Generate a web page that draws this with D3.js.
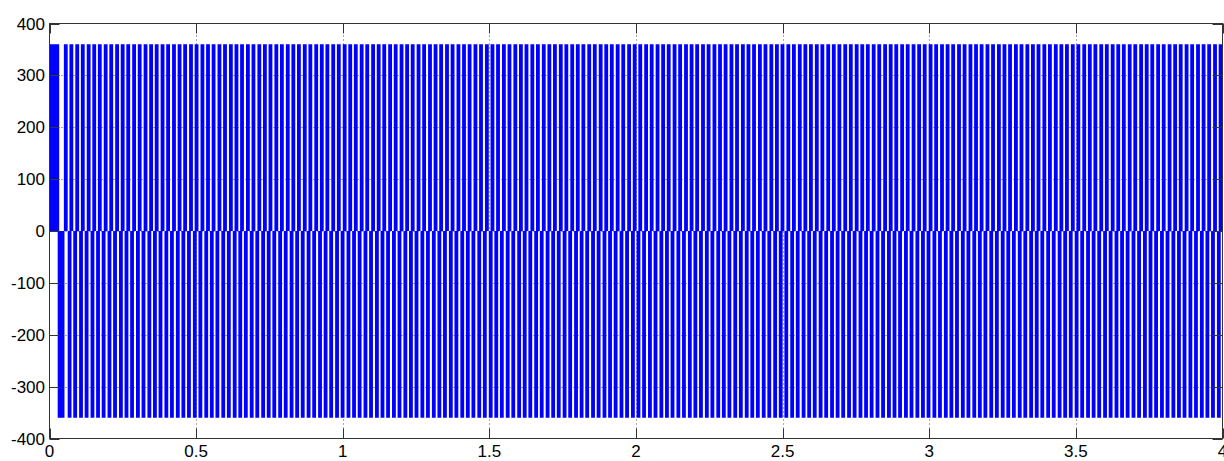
<!DOCTYPE html>
<html>
<head>
<meta charset="utf-8">
<script src="https://cdn.jsdelivr.net/npm/d3@7"></script>
<style>
  body { margin: 0; background: #fff; }
  svg { display: block; }
  text { font-family: "Liberation Sans", Arial, sans-serif; }
</style>
</head>
<body>
<svg id="chart"></svg>
<script>
// axis ticks
const xTicks = [0, 0.5, 1, 1.5, 2, 2.5, 3, 3.5, 4];
const yTicks = [-400, -300, -200, -100, 0, 100, 200, 300, 400];

// switching waveform: +/-360 pulses, times in ms
const level = 360;
const pulseMs = 13;
const posLead = [0, 33];
const negLead = [28, 51];
const posOn = [
  49, 68, 88, 107, 127, 146, 165, 185, 204, 224, 243, 262, 282, 301, 321,
  340, 359, 379, 398, 418, 437, 456, 476, 495, 515, 534, 553, 573, 592, 612,
  631, 650, 670, 689, 709, 728, 747, 767, 786, 806, 825, 844, 864, 883, 903,
  922, 941, 961, 980, 1000, 1019, 1038, 1058, 1077, 1097, 1116, 1135, 1155, 1174, 1194,
  1213, 1232, 1252, 1271, 1291, 1310, 1329, 1349, 1368, 1388, 1407, 1426, 1446, 1465, 1485,
  1504, 1523, 1543, 1562, 1582, 1601, 1620, 1640, 1659, 1679, 1698, 1717, 1737, 1756, 1776,
  1795, 1814, 1834, 1853, 1873, 1892, 1911, 1931, 1950, 1970, 1989, 2008, 2028, 2047, 2067,
  2086, 2105, 2125, 2144, 2164, 2183, 2202, 2222, 2241, 2261, 2280, 2299, 2319, 2338, 2358,
  2377, 2396, 2416, 2435, 2455, 2474, 2493, 2513, 2532, 2552, 2571, 2590, 2610, 2629, 2649,
  2668, 2687, 2707, 2726, 2746, 2765, 2784, 2804, 2823, 2843, 2862, 2881, 2901, 2920, 2940,
  2959, 2978, 2998, 3017, 3037, 3056, 3075, 3095, 3114, 3134, 3153, 3172, 3192, 3211, 3231,
  3250, 3269, 3289, 3308, 3328, 3347, 3366, 3386, 3405, 3425, 3444, 3463, 3483, 3502, 3522,
  3541, 3560, 3580, 3599, 3619, 3638, 3657, 3677, 3696, 3716, 3735, 3754, 3774, 3793, 3813,
  3832, 3851, 3871, 3890, 3910, 3929, 3948, 3968, 3987
];
const negOn = [
  62, 81, 101, 120, 140, 159, 178, 198, 217, 237, 256, 275, 295, 314, 334,
  353, 372, 392, 411, 431, 450, 469, 489, 508, 528, 547, 566, 586, 605, 625,
  644, 663, 683, 702, 722, 741, 760, 780, 799, 819, 838, 857, 877, 896, 916,
  935, 954, 974, 993, 1013, 1032, 1051, 1071, 1090, 1110, 1129, 1148, 1168, 1187, 1207,
  1226, 1245, 1265, 1284, 1304, 1323, 1342, 1362, 1381, 1401, 1420, 1439, 1459, 1478, 1498,
  1517, 1536, 1556, 1575, 1595, 1614, 1633, 1653, 1672, 1692, 1711, 1730, 1750, 1769, 1789,
  1808, 1827, 1847, 1866, 1886, 1905, 1924, 1944, 1963, 1983, 2002, 2021, 2041, 2060, 2080,
  2099, 2118, 2138, 2157, 2177, 2196, 2215, 2235, 2254, 2274, 2293, 2312, 2332, 2351, 2371,
  2390, 2409, 2429, 2448, 2468, 2487, 2506, 2526, 2545, 2565, 2584, 2603, 2623, 2642, 2662,
  2681, 2700, 2720, 2739, 2759, 2778, 2797, 2817, 2836, 2856, 2875, 2894, 2914, 2933, 2953,
  2972, 2991, 3011, 3030, 3050, 3069, 3088, 3108, 3127, 3147, 3166, 3185, 3205, 3224, 3244,
  3263, 3282, 3302, 3321, 3341, 3360, 3379, 3399, 3418, 3438, 3457, 3476, 3496, 3515, 3535,
  3554, 3573, 3593, 3612, 3632, 3651, 3670, 3690, 3709, 3729, 3748, 3767, 3787, 3806, 3826,
  3845, 3864, 3884, 3903, 3923, 3942, 3961, 3981
];

const width = 1224, height = 461;
const plotL = 49.5, plotR = 1222.5, plotT = 23.5, plotB = 438.5;
const tickLen = 10;

const x = d3.scaleLinear().domain([0, 4]).range([plotL, plotR]);
const y = d3.scaleLinear().domain([-400, 400]).range([plotB, plotT]);

const svg = d3.select("#chart")
  .attr("width", width)
  .attr("height", height);

svg.append("defs").append("clipPath")
  .attr("id", "plot")
  .append("rect")
  .attr("x", plotL).attr("y", plotT)
  .attr("width", plotR - plotL).attr("height", plotB - plotT);

// grid
const grid = svg.append("g")
  .attr("stroke", "#555")
  .attr("stroke-width", 1)
  .attr("stroke-dasharray", "1,3");
grid.selectAll(".gx")
  .data(xTicks.slice(1, -1))
  .join("line")
  .attr("x1", d => Math.round(x(d)) + 0.5).attr("x2", d => Math.round(x(d)) + 0.5)
  .attr("y1", plotT).attr("y2", plotB);
grid.selectAll(".gy")
  .data(yTicks.slice(1, -1))
  .join("line")
  .attr("y1", d => Math.round(y(d)) + 0.5).attr("y2", d => Math.round(y(d)) + 0.5)
  .attr("x1", plotL).attr("x2", plotR);

// pulses
const posPulses = [posLead].concat(posOn.map(t => [t, t + pulseMs]));
const negPulses = [negLead].concat(negOn.map(t => [t, t + pulseMs]));

const wave = svg.append("g")
  .attr("clip-path", "url(#plot)")
  .attr("fill", "#0000ff");

wave.selectAll(".pos")
  .data(posPulses)
  .join("rect")
  .attr("x", d => x(d[0] / 1000))
  .attr("width", d => x(d[1] / 1000) - x(d[0] / 1000))
  .attr("y", y(level))
  .attr("height", y(0) - y(level));

wave.selectAll(".neg")
  .data(negPulses)
  .join("rect")
  .attr("x", d => x(d[0] / 1000))
  .attr("width", d => x(d[1] / 1000) - x(d[0] / 1000))
  .attr("y", y(0))
  .attr("height", y(-level) - y(0));

// box and ticks
const axisColor = "#333";
svg.append("rect")
  .attr("x", plotL).attr("y", plotT)
  .attr("width", plotR - plotL).attr("height", plotB - plotT)
  .attr("fill", "none")
  .attr("stroke", axisColor);

const ticks = svg.append("g").attr("stroke", axisColor);
ticks.selectAll(".tb")
  .data(xTicks)
  .join("line")
  .attr("x1", d => Math.round(x(d)) + 0.5).attr("x2", d => Math.round(x(d)) + 0.5)
  .attr("y1", plotB).attr("y2", plotB - tickLen);
ticks.selectAll(".tt")
  .data(xTicks)
  .join("line")
  .attr("x1", d => Math.round(x(d)) + 0.5).attr("x2", d => Math.round(x(d)) + 0.5)
  .attr("y1", plotT).attr("y2", plotT + tickLen);
ticks.selectAll(".tl")
  .data(yTicks)
  .join("line")
  .attr("y1", d => Math.round(y(d)) + 0.5).attr("y2", d => Math.round(y(d)) + 0.5)
  .attr("x1", plotL).attr("x2", plotL + tickLen);
ticks.selectAll(".tr")
  .data(yTicks)
  .join("line")
  .attr("y1", d => Math.round(y(d)) + 0.5).attr("y2", d => Math.round(y(d)) + 0.5)
  .attr("x1", plotR).attr("x2", plotR - tickLen);

// labels
svg.append("g")
  .attr("font-size", 17)
  .attr("fill", "#000")
  .attr("text-anchor", "end")
  .selectAll("text")
  .data(yTicks)
  .join("text")
  .attr("x", 45)
  .attr("y", d => y(d) + 6)
  .text(d => String(d));

svg.append("g")
  .attr("font-size", 17)
  .attr("fill", "#000")
  .attr("text-anchor", "middle")
  .selectAll("text")
  .data(xTicks)
  .join("text")
  .attr("x", d => x(d))
  .attr("y", 457)
  .text(d => String(d));
</script>
</body>
</html>
